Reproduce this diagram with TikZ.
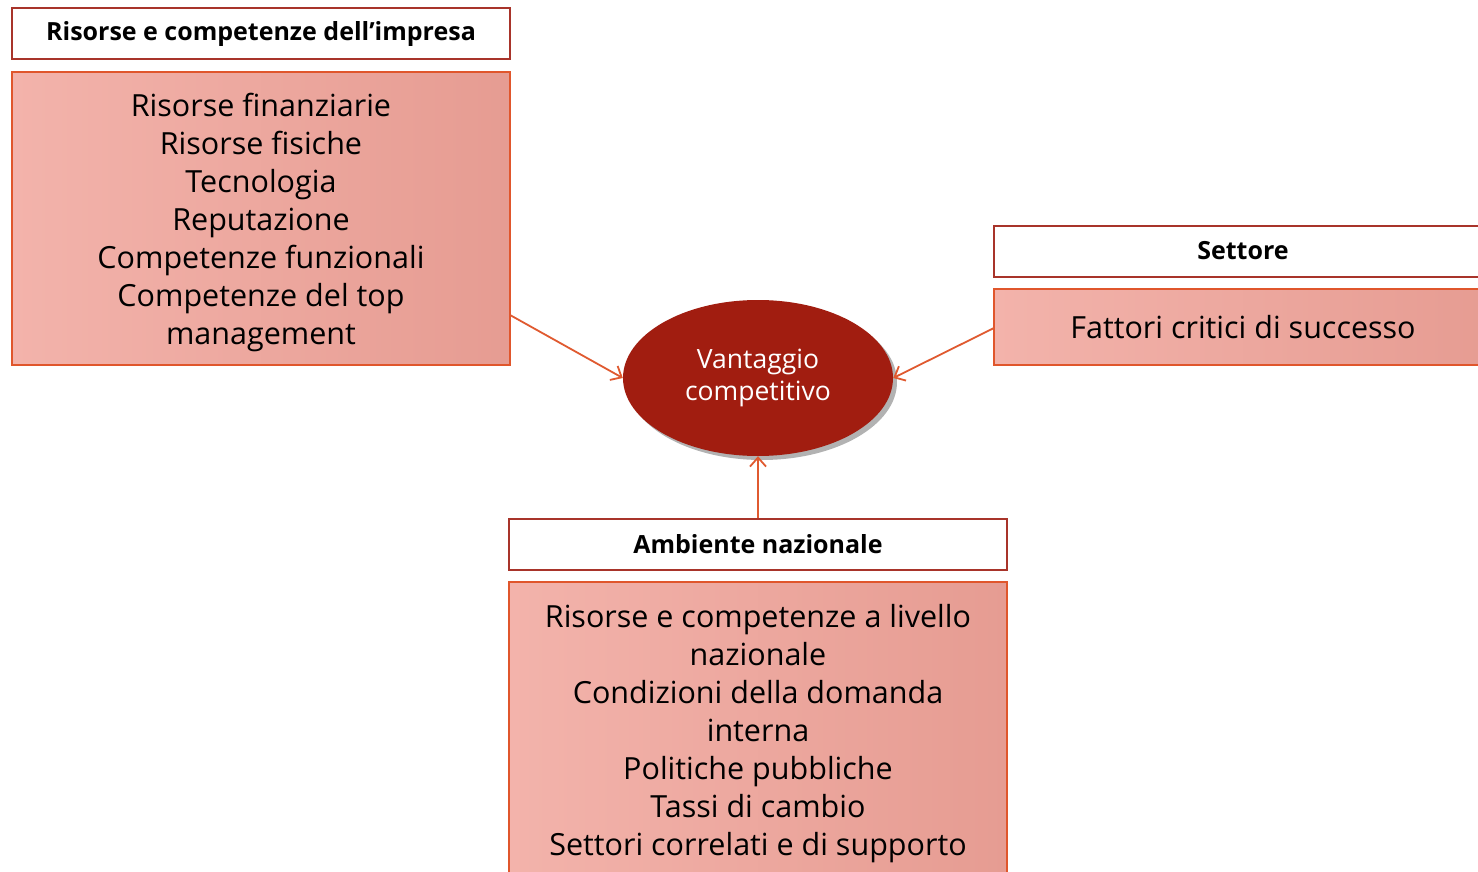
\documentclass[tikz,border=0pt]{standalone}
\usepackage{fontspec}
\setmainfont{Open Sans}
\usetikzlibrary{arrows.meta,shapes.geometric,shadows}
\definecolor{hdrborder}{HTML}{A8342A}
\definecolor{boxborder}{HTML}{E0562C}
\definecolor{pinkL}{HTML}{F3B3AB}
\definecolor{pinkR}{HTML}{E69C92}
\definecolor{ellred}{HTML}{A11D10}
\definecolor{arrowc}{HTML}{E05A30}
\tikzset{
  hdr/.style={draw=hdrborder, line width=2pt, fill=white, rectangle, minimum width=498pt, minimum height=51pt, inner sep=0pt, font=\fontsize{25}{28}\selectfont\bfseries, text=black},
  content/.style={draw=boxborder, line width=2pt, left color=pinkL, right color=pinkR, rectangle, minimum width=498pt, inner sep=0pt},
  ctext/.style={inner sep=0pt, align=center, font=\fontsize{30.5}{38}\selectfont, text=black},
  conn/.style={draw=arrowc, line width=1.8pt, -{Straight Barb[length=9pt,width=16pt,line width=1.8pt]}},
}
\begin{document}
\begin{tikzpicture}[x=1pt,y=-1pt]
\clip (0,0) rectangle (1478,872);
\fill[white] (0,0) rectangle (1478,872);
% top-left
\node[hdr] (h1) at (261,34) {Risorse e competenze dell’impresa};
\node[content, minimum height=293pt] (c1) at (261,218.5) {};
\node[ctext] (t1) at ([yshift=-3.5pt]c1.center) {Risorse finanziarie\\Risorse fisiche\\Tecnologia\\Reputazione\\Competenze funzionali\\Competenze del top\\management};
% right
\node[hdr] (h2) at (1243,251) {Settore};
\node[content, minimum height=76pt] (c2) at (1243,327) {};
\node[ctext] (t2) at (c2.center) {Fattori critici di successo};
% bottom
\node[hdr] (h3) at (758,544) {Ambiente nazionale};
\node[content, minimum height=298pt] (c3) at (758,731) {};
\node[ctext] (t3) at ([yshift=-3pt]c3.center) {Risorse e competenze a livello\\nazionale\\Condizioni della domanda\\interna\\Politiche pubbliche\\Tassi di cambio\\Settori correlati e di supporto};
% ellipse
\node[ellipse, fill=ellred, minimum width=270pt, minimum height=156pt, inner sep=0pt, text=white, align=center, font=\fontsize{26.5}{32}\selectfont,
  drop shadow={shadow xshift=4pt, shadow yshift=-4pt, opacity=0.3, fill=black}] (e) at (758,378) {Vantaggio\\competitivo};
% connectors
\coordinate (a1) at (510,315);
\coordinate (a2) at (994,328);
\draw[conn] (a1) -- (e.west);
\draw[conn] (a2) -- (e.east);
\draw[conn] (h3.north) -- (e.south);
\end{tikzpicture}
\end{document}
